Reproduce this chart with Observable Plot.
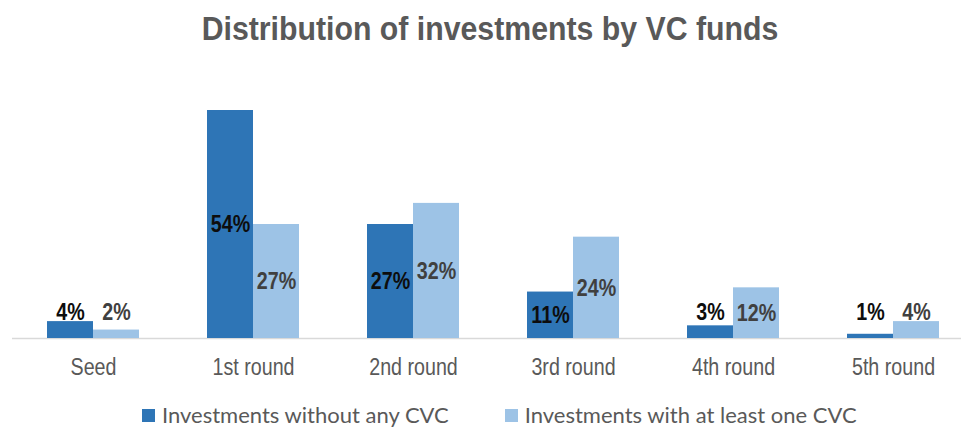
<!DOCTYPE html>
<html>
<head>
<meta charset="utf-8">
<script src="https://cdn.jsdelivr.net/npm/d3@7"></script>
<script src="https://cdn.jsdelivr.net/npm/@observablehq/plot@0.6"></script>
<style>
  html, body { margin: 0; padding: 0; background: #fff; }
  #wrap { width: 961px; height: 428px; overflow: hidden; position: relative; }
  #title {
    height: 62px; box-sizing: border-box; padding-top: 8px; padding-left: 19px;
    text-align: center; color: #595959;
    font-family: "Liberation Sans", Arial, sans-serif;
    font-weight: bold; font-size: 34px; line-height: 40px;
  }
  #title span { display: inline-block; transform: scaleX(0.89); transform-origin: center; white-space: nowrap; }
  #legend {
    height: 28px; display: flex; align-items: center;
    padding-left: 142px; padding-top: 2px; box-sizing: border-box;
    font-family: Lato, "Open Sans", sans-serif; font-size: 22px; line-height: 24px; color: #595959;
  }
  .item { display: flex; align-items: center; margin-right: 56px; white-space: nowrap; }
  .sw { width: 13px; height: 13px; margin-right: 7px; }
  svg { display: block; }
</style>
</head>
<body>
<div id="wrap">
  <div id="title"><span>Distribution of investments by VC funds</span></div>
  <div id="chart"></div>
  <div id="legend"></div>
</div>
<script>
const categories = ["Seed", "1st round", "2nd round", "3rd round", "4th round", "5th round"];
const seriesNames = ["Investments without any CVC", "Investments with at least one CVC"];
const withoutCVC = [4, 54, 27, 11, 3, 1];
const withCVC = [2, 27, 32, 24, 12, 4];
const colors = ["#2E75B6", "#9DC3E6"];
const labelColors = ["#0d0d0d", "#404040"];

const data = [];
categories.forEach((c, i) => {
  data.push({category: c, series: 0, value: withoutCVC[i]});
  data.push({category: c, series: 1, value: withCVC[i]});
});

const barW = 46;
const off = (s) => (s === 0 ? -barW / 2 : barW / 2);

function labelMark(s, small) {
  const d = data.filter((r) => r.series === s && (small ? r.value < 10 : r.value >= 10));
  return Plot.text(d, {
    x: "category",
    y: (r) => (small ? Math.max(r.value, 4) : r.value / 2),
    dy: small ? -9 : 0,
    dx: off(s),
    text: (r) => r.value + "%",
    fill: labelColors[s],
    fontWeight: "bold",
    fontSize: 24,
    lineAnchor: "middle"
  });
}

const marks = [
  Plot.ruleY([0], {stroke: "#d9d9d9", strokeWidth: 1.5}),
  ...[0, 1].map((s) => Plot.barY(data.filter((r) => r.series === s), {x: "category", y: "value", fill: colors[s], dx: off(s)})),
  labelMark(0, false), labelMark(0, true), labelMark(1, false), labelMark(1, true),
  Plot.axisX({tickSize: 0, tickPadding: 19, fontSize: 24, color: "#595959", label: null})
];

const chart = Plot.plot({
  width: 961,
  height: 338,
  marginTop: 48,
  marginBottom: 62,
  marginLeft: 12,
  marginRight: 0,
  style: {fontFamily: '"Liberation Sans", Arial, sans-serif', color: "#595959", background: "#fff"},
  x: {domain: categories, range: [12, 973], paddingInner: 0.713, paddingOuter: 0.356, axis: null},
  y: {domain: [0, 54], axis: null},
  marks
});

// narrow the glyphs (Arial Narrow look) horizontally around each text's own anchor
d3.select(chart).selectAll("text").each(function () {
  const el = d3.select(this);
  const x = parseFloat(el.attr("x")) || 0;
  const t = el.attr("transform") || "";
  el.attr("x", null)
    .attr("transform", `${t} translate(${x},0) scale(0.82,1)`);
});
document.getElementById("chart").appendChild(chart);

const legend = document.getElementById("legend");
seriesNames.forEach((n, i) => {
  const it = document.createElement("div");
  it.className = "item";
  const sw = document.createElement("div");
  sw.className = "sw";
  sw.style.background = colors[i];
  const t = document.createElement("span");
  t.textContent = n;
  it.appendChild(sw); it.appendChild(t);
  legend.appendChild(it);
});
</script>
</body>
</html>
